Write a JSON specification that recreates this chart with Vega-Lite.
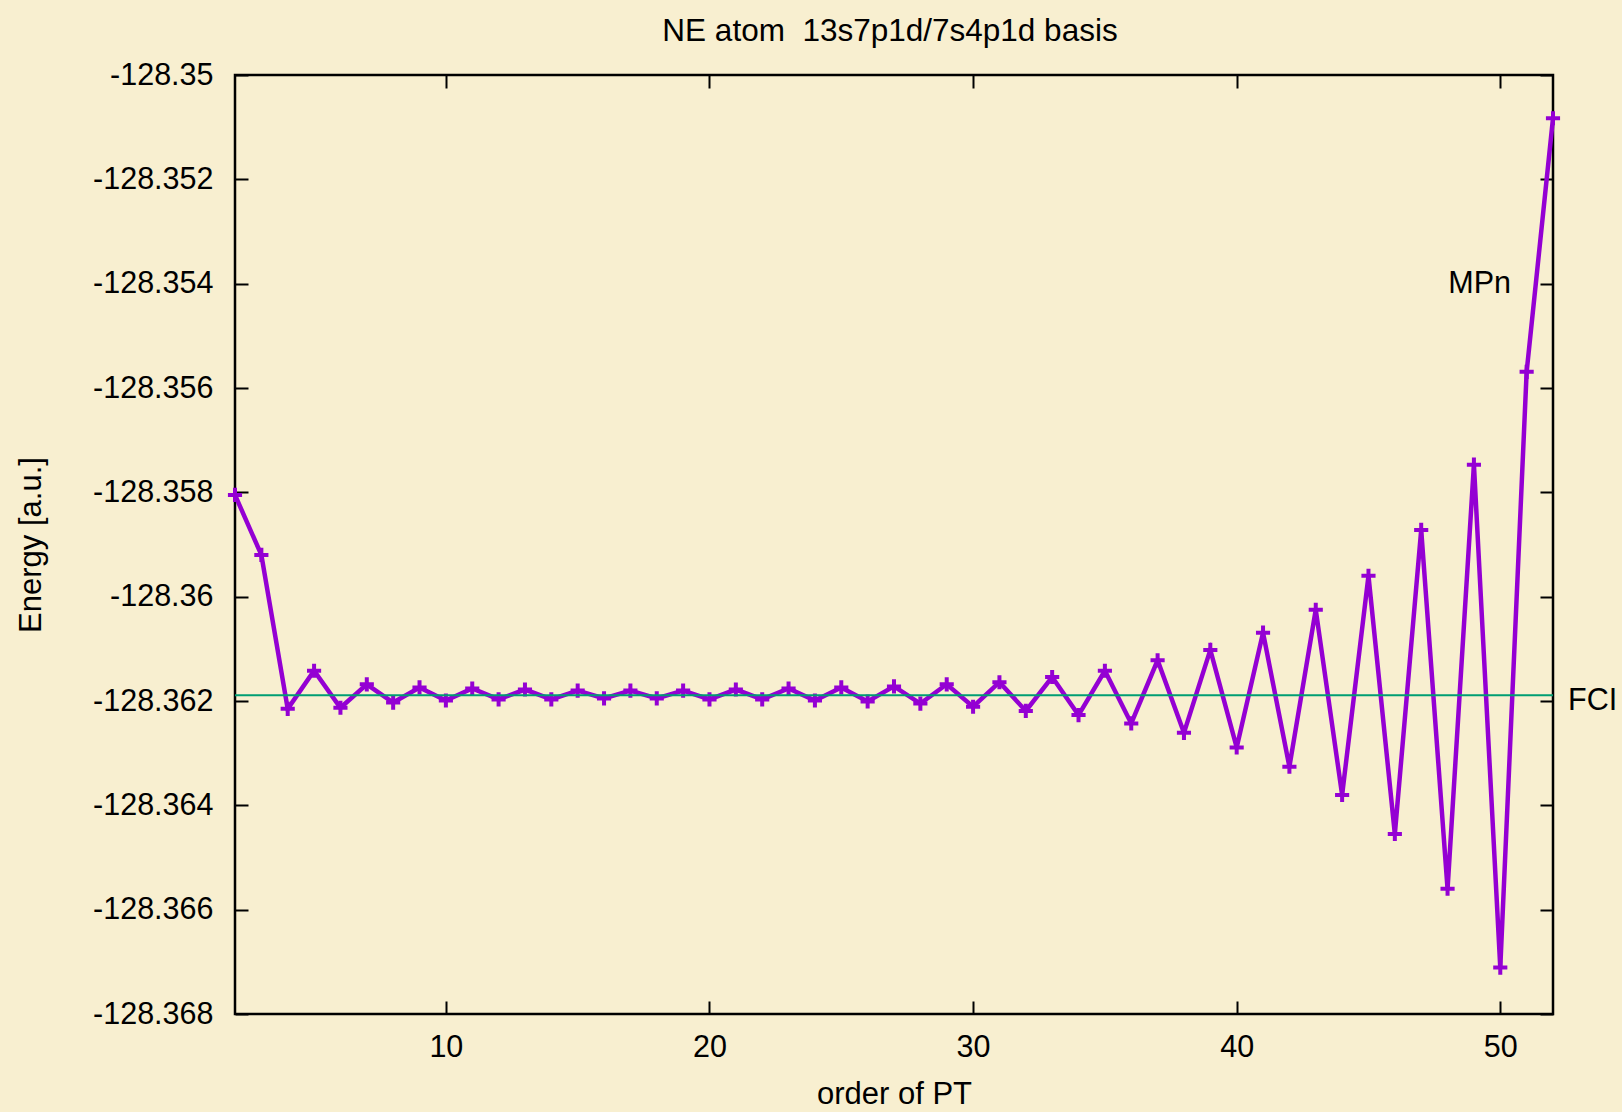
{
  "$schema": "https://vega.github.io/schema/vega-lite/v6.json",
  "autosize": "none",
  "width": 1318,
  "height": 939,
  "padding": {"left": 235, "top": 75, "right": 69, "bottom": 98},
  "background": "#f8efd0",
  "config": {
    "view": {"stroke": "#000000", "strokeWidth": 2.5},
    "font": "Liberation Sans",
    "axis": {"grid": false, "domain": false, "labelOverlap": false, "labelFlush": false}
  },
  "title": {
    "text": "NE atom \u00a013s7p1d/7s4p1d basis",
    "font": "Liberation Sans",
    "fontSize": 31.5,
    "fontWeight": "normal",
    "color": "#000000",
    "anchor": "middle",
    "frame": "group",
    "baseline": "alphabetic",
    "offset": -12,
    "dx": -4
  },
  "datasets": {
    "mp": [
      {"n": 2, "energy": -128.35805},
      {"n": 3, "energy": -128.35920},
      {"n": 4, "energy": -128.36215},
      {"n": 5, "energy": -128.36142},
      {"n": 6, "energy": -128.36213},
      {"n": 7, "energy": -128.36168},
      {"n": 8, "energy": -128.36203},
      {"n": 9, "energy": -128.36174},
      {"n": 10, "energy": -128.36199},
      {"n": 11, "energy": -128.36176},
      {"n": 12, "energy": -128.36197},
      {"n": 13, "energy": -128.36178},
      {"n": 14, "energy": -128.36197},
      {"n": 15, "energy": -128.36180},
      {"n": 16, "energy": -128.36195},
      {"n": 17, "energy": -128.36180},
      {"n": 18, "energy": -128.36195},
      {"n": 19, "energy": -128.36180},
      {"n": 20, "energy": -128.36197},
      {"n": 21, "energy": -128.36178},
      {"n": 22, "energy": -128.36197},
      {"n": 23, "energy": -128.36176},
      {"n": 24, "energy": -128.36199},
      {"n": 25, "energy": -128.36174},
      {"n": 26, "energy": -128.36201},
      {"n": 27, "energy": -128.36172},
      {"n": 28, "energy": -128.36205},
      {"n": 29, "energy": -128.36168},
      {"n": 30, "energy": -128.36211},
      {"n": 31, "energy": -128.36164},
      {"n": 32, "energy": -128.36219},
      {"n": 33, "energy": -128.36154},
      {"n": 34, "energy": -128.36227},
      {"n": 35, "energy": -128.36142},
      {"n": 36, "energy": -128.36243},
      {"n": 37, "energy": -128.36122},
      {"n": 38, "energy": -128.36261},
      {"n": 39, "energy": -128.36102},
      {"n": 40, "energy": -128.36289},
      {"n": 41, "energy": -128.36069},
      {"n": 42, "energy": -128.36326},
      {"n": 43, "energy": -128.36025},
      {"n": 44, "energy": -128.36380},
      {"n": 45, "energy": -128.35960},
      {"n": 46, "energy": -128.36455},
      {"n": 47, "energy": -128.35872},
      {"n": 48, "energy": -128.36560},
      {"n": 49, "energy": -128.35747},
      {"n": 50, "energy": -128.36711},
      {"n": 51, "energy": -128.35569},
      {"n": 52, "energy": -128.35083}
    ],
    "fci": [{"energy": -128.36189}],
    "labels": [
      {"n": 50.41, "energy": -128.354, "text": "MPn", "kind": "inside"},
      {"n": 52, "energy": -128.362, "text": "FCI", "kind": "outside"}
    ]
  },
  "layer": [
    {
      "data": {"name": "mp"},
      "mark": {"type": "line", "color": "#9400d3", "strokeWidth": 4.5, "clip": false},
      "encoding": {
        "x": {
          "field": "n", "type": "quantitative",
          "scale": {"domain": [2, 52], "nice": false, "zero": false},
          "axis": {
            "orient": "bottom",
            "values": [10, 20, 30, 40, 50],
            "title": "order of PT",
            "titleFont": "Liberation Sans", "titleFontSize": 31, "titleFontWeight": "normal", "titleColor": "#000000", "titlePadding": 17,
            "labelFont": "Liberation Sans", "labelFontSize": 30.5, "labelColor": "#000000", "labelPadding": 31,
            "tickSize": -13, "tickWidth": 2, "tickColor": "#000000"
          }
        },
        "y": {
          "field": "energy", "type": "quantitative",
          "scale": {"domain": [-128.368, -128.35], "nice": false, "zero": false},
          "axis": {
            "orient": "left",
            "values": [-128.368, -128.366, -128.364, -128.362, -128.36, -128.358, -128.356, -128.354, -128.352, -128.35],
            "labelExpr": "'-' + format(abs(datum.value), '.6~r')",
            "title": "Energy [a.u.]",
            "titleFont": "Liberation Sans", "titleFontSize": 31, "titleFontWeight": "normal", "titleColor": "#000000", "titlePadding": 45,
            "labelFont": "Liberation Sans", "labelFontSize": 30.5, "labelColor": "#000000", "labelPadding": 35,
            "tickSize": -13, "tickWidth": 2, "tickColor": "#000000"
          }
        }
      }
    },
    {
      "data": {"name": "mp"},
      "mark": {"type": "point", "shape": "M-1,0H1M0,-1V1", "filled": false, "color": "#9400d3", "strokeWidth": 4, "size": 200, "opacity": 1, "clip": false},
      "encoding": {
        "x": {
          "field": "n", "type": "quantitative",
          "axis": {"orient": "top", "values": [10, 20, 30, 40, 50], "labels": false, "title": null, "tickSize": -13, "tickWidth": 2, "tickColor": "#000000"}
        },
        "y": {
          "field": "energy", "type": "quantitative",
          "axis": {"orient": "right", "values": [-128.368, -128.366, -128.364, -128.362, -128.36, -128.358, -128.356, -128.354, -128.352, -128.35], "labels": false, "title": null, "tickSize": -13, "tickWidth": 2, "tickColor": "#000000"}
        }
      }
    },
    {
      "data": {"name": "fci"},
      "mark": {"type": "rule", "color": "#009e73", "strokeWidth": 2.2},
      "encoding": {
        "y": {"field": "energy", "type": "quantitative", "axis": null}
      }
    },
    {
      "data": {"name": "labels"},
      "transform": [{"filter": "datum.kind === 'inside'"}],
      "mark": {"type": "text", "align": "right", "baseline": "middle", "font": "Liberation Sans", "fontSize": 30.5, "color": "#000000"},
      "encoding": {
        "x": {"field": "n", "type": "quantitative", "axis": null},
        "y": {"field": "energy", "type": "quantitative", "axis": null},
        "text": {"field": "text"}
      }
    },
    {
      "data": {"name": "labels"},
      "transform": [{"filter": "datum.kind === 'outside'"}],
      "mark": {"type": "text", "align": "left", "baseline": "middle", "dx": 15, "font": "Liberation Sans", "fontSize": 30.5, "color": "#000000", "clip": false},
      "encoding": {
        "x": {"field": "n", "type": "quantitative", "axis": null},
        "y": {"field": "energy", "type": "quantitative", "axis": null},
        "text": {"field": "text"}
      }
    }
  ],
  "resolve": {"axis": {"x": "independent", "y": "independent"}}
}
